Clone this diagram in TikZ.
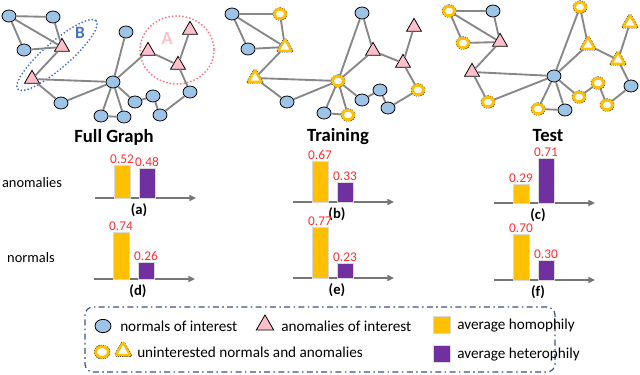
\documentclass[tikz,border=0pt]{standalone}
\usepackage{fontspec}
\setmainfont{Carlito}
\usetikzlibrary{arrows.meta, positioning, shapes.geometric}
\definecolor{nblue}{RGB}{157,195,230}
\definecolor{apink}{RGB}{255,192,203}
\definecolor{uyell}{RGB}{255,192,0}
\definecolor{hetero}{RGB}{112,48,160}
\definecolor{valred}{RGB}{255,45,45}
\definecolor{edgegray}{RGB}{135,135,135}
\definecolor{axisgray}{RGB}{118,118,118}
\definecolor{grpB}{RGB}{68,114,196}
\definecolor{grpA}{RGB}{255,110,125}
\definecolor{legblue}{RGB}{55,85,130}
\tikzset{
  nrm/.style={ellipse, draw=black, line width=0.6pt, fill=nblue, minimum width=10.5pt, minimum height=9pt, inner sep=0pt},
  anm/.style={regular polygon, regular polygon sides=3, draw=black, line width=0.6pt, fill=apink, minimum size=13pt, inner sep=0pt},
  unrm/.style={ellipse, draw=uyell, line width=2.1pt, fill=white, minimum width=8.6pt, minimum height=7pt, inner sep=0pt,
    preaction={draw=black, line width=2.8pt, dash pattern=on 0.7pt off 0.7pt}},
  uanm/.style={regular polygon, regular polygon sides=3, draw=uyell, line width=1.7pt, line join=round, fill=white, minimum size=11.5pt, inner sep=0pt,
    preaction={draw=black, line width=2.4pt, line join=round, dash pattern=on 0.7pt off 0.7pt}},
  edge/.style={draw=edgegray, line width=1.4pt},
  hbar/.style={rectangle, draw=black!15, line width=0.6pt, minimum width=12pt, inner sep=0pt, outer sep=0pt, anchor=south west},
  val/.style={text=valred, inner sep=0.5pt, font=\fontsize{10pt}{11pt}\selectfont},
  subcap/.style={font=\bfseries\fontsize{11pt}{12pt}\selectfont},
  axis/.style={draw=axisgray, line width=1.1pt, -{Triangle[length=5pt, width=4.5pt]}},
  title/.style={font=\bfseries\fontsize{14pt}{16pt}\selectfont},
  rowlab/.style={font=\fontsize{10.8pt}{12pt}\selectfont},
  legtext/.style={anchor=west, inner sep=0pt, font=\fontsize{11.4pt}{13pt}\selectfont},
  legbox/.style={draw=legblue, line width=0.9pt, rounded corners=6pt, dash pattern=on 4.5pt off 2.5pt on 1.2pt off 2.5pt},
  grpring/.style={line width=1.5pt, line cap=round, dash pattern=on 0pt off 2.6pt}
}
\newcommand{\barpair}[8]{%
  \begin{scope}[shift={(#2,#3)}]
    \coordinate (#1-l) at (-19,0);
    \coordinate (#1-r) at (82,0);
    \draw[axis] (#1-l) -- (#1-r);
    \node[hbar, fill=uyell, minimum height={#4*0.75pt}] (#1-y) at (0,0) {};
    \node[hbar, fill=hetero, minimum height={#5*0.75pt}] (#1-p) at (25,0) {};
    \node[val, above=0pt of #1-y] {#6};
    \node[val, above=0pt of #1-p] {#7};
    \node[subcap] (#1-cap) at (25,12) {#8};
  \end{scope}
}

\begin{document}
\begin{tikzpicture}[x=0.75pt, y=-0.75pt]
  \useasboundingbox (0,0) rectangle (640,375);

  % Groups in the full graph
  \draw[grpring, draw=grpB, rotate around={41:(57,55)}] (57,55) ellipse [x radius=52, y radius=13];
  \draw[grpring, draw=grpA] (177,50) ellipse [x radius=37, y radius=34];
  \node[text=grpB, font=\bfseries\fontsize{13pt}{14pt}\selectfont] (labB) at (80,33) {B};
  \node[text=apink, font=\bfseries\fontsize{14pt}{15pt}\selectfont] (labA) at (167,38) {A};

  % Full graph
  \foreach \nm/\px/\py/\st in {n1/9/16/nrm, n2/53/17/nrm, n3/24/50/nrm, t1/62/47/anm, t2/32/79/anm,
      n4/61/103/nrm, c/113/82/nrm, n5/126/32/nrm, tA1/148/51/anm, tA2/178/65/anm, tA3/190/30/anm,
      n6/190/92/nrm, n7/153/96/nrm, n8/135/102/nrm, n9/160/115/nrm, n10/101/116/nrm, n11/124/117/nrm}
    \node[\st] (f\nm) at (\px,\py) {};

  % Training graph
  \foreach \nm/\px/\py/\st in {n1/232/14/nrm, n2/280/14/unrm, n3/248/49/nrm, t1/285/47/uanm, t2/255/78/uanm,
      n4/287/102/nrm, c/338/81/unrm, n5/362/13/nrm, tA1/373/51/anm, tA2/403/63/anm, tA3/414/27/anm,
      n6/418/90/unrm, n7/380/90/nrm, n8/362/100/nrm, n9/388/108/nrm, n10/324/113/nrm, n11/348/115/unrm}
    \node[\st] (r\nm) at (\px,\py) {};

  % Test graph
  \foreach \nm/\px/\py/\st in {n1/449/11/unrm, n2/493/11/nrm, n3/463/43/unrm, t1/500/42/anm, t2/472/72/anm,
      n4/488/102/unrm, c/554/76/nrm, n5/580/7/unrm, tA1/588/45/uanm, tA2/618/60/uanm, tA3/630/23/uanm,
      n6/631/86/nrm, n7/598/83/unrm, n8/579/97/unrm, n9/607/105/unrm, n10/538/109/unrm, n11/565/110/nrm}
    \node[\st] (t\nm) at (\px,\py) {};

  % Edges
  \foreach \g in {f,r,t}
    \foreach \a/\b in {n1/n2, n1/n3, n1/t1, n2/t1, n3/t1, t1/t2, t2/c, t2/n4, n4/c, c/n5, c/tA1,
        tA1/tA2, tA2/tA3, tA2/n6, n6/n9, n9/n7, n7/n8, n8/c, c/n10, c/n11, n10/n11}
      \draw[edge] (\g\a) -- (\g\b);
  \foreach \g in {r,t}
    \draw[edge] (\g n5) -- (\g tA1);

  % Titles and rows
  \node[title] (tfull) at (114,137) {Full Graph};
  \node[title] (ttrain) at (338,137) {Training};
  \node[title] (ttest) at (548,136) {Test};
  \node[rowlab] (ranom) at (32,183) {anomalies};
  \node[rowlab] (rnorm) at (31,258) {normals};

  % Homophily bars
  \barpair{a}{114}{198}{33}{30}{0.52}{0.48}{(a)}
  \barpair{d}{113}{279}{47}{17}{0.74}{0.26}{(d)}
  \barpair{b}{312}{202}{41}{20}{0.67}{0.33}{(b)}
  \barpair{e}{312}{278}{51}{15}{0.77}{0.23}{(e)}
  \barpair{c}{513}{203}{19}{45}{0.29}{0.71}{(c)}
  \barpair{f}{513}{280}{46}{20}{0.70}{0.30}{(f)}

  % Legend
  \node[legbox, minimum width=352.5pt, minimum height=48.75pt] (legend) at (320,339.5) {};
  \node[nrm, minimum width=12pt, minimum height=10pt] (lnrm) at (103,326) {};
  \node[legtext] (lnrmt) at (120,326) {normals of interest};
  \node[anm, minimum size=15pt] (lanm) at (265,325) {};
  \node[legtext] (lanmt) at (281,326) {anomalies of interest};
  \node[unrm, minimum width=9.5pt, minimum height=8pt] (lunrm) at (102,352) {};
  \node[uanm, minimum size=12.5pt] (luanm) at (123,351) {};
  \node[legtext] (lunt) at (137,352) {uninterested normals and anomalies};
  \node[hbar, anchor=center, fill=uyell, minimum width=13pt, minimum height=13pt] (lhom) at (442,325) {};
  \node[legtext] (lhomt) at (457,326) {average homophily};
  \node[hbar, anchor=center, fill=hetero, minimum width=13pt, minimum height=13pt] (lhet) at (442,354) {};
  \node[legtext] (lhett) at (457,355) {average heterophily};
\end{tikzpicture}
\end{document}
